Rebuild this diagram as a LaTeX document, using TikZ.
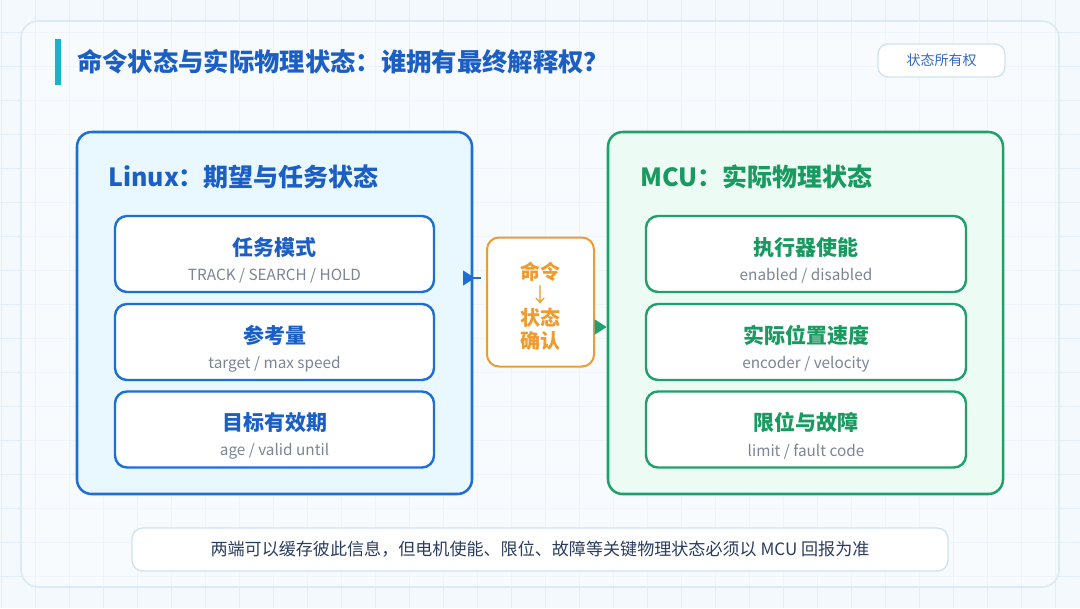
\documentclass[tikz,border=0pt]{standalone}
\usepackage{fontspec}
\setmainfont{Noto Sans CJK SC}
\usetikzlibrary{arrows.meta}
\definecolor{bgc}{HTML}{F4F9FD}
\definecolor{gridc}{HTML}{E3EEF6}
\definecolor{framec}{HTML}{DCEAF4}
\definecolor{titleblue}{HTML}{1C5FC4}
\definecolor{barc}{HTML}{19B3C9}
\definecolor{lblue}{HTML}{1E6FD1}
\definecolor{lfill}{HTML}{E9F8FF}
\definecolor{lgreen}{HTML}{1FA06C}
\definecolor{gtext}{HTML}{189A60}
\definecolor{gfill}{HTML}{ECFBF4}
\definecolor{subgray}{HTML}{7C8595}
\definecolor{orangec}{HTML}{EE9B30}
\definecolor{tagborder}{HTML}{CFE2F1}
\definecolor{tagtext}{HTML}{3568C0}
\definecolor{notetext}{HTML}{2B3D5E}
\begin{document}
\begin{tikzpicture}[x=0.75pt,y=-0.75pt,
  outerframe/.style={draw=framec,line width=1.2pt,fill=white,fill opacity=0.4,rounded corners=13pt,minimum width=778.5pt,minimum height=424.5pt,inner sep=0pt},
  panelL/.style={draw=lblue,line width=1.9pt,fill=lfill,rounded corners=11pt,minimum width=296.25pt,minimum height=271.5pt,inner sep=0pt},
  panelR/.style={panelL,draw=lgreen,fill=gfill},
  subL/.style={draw=lblue,line width=1.8pt,fill=white,rounded corners=9pt,minimum width=239.25pt,minimum height=57pt,inner sep=0pt},
  subR/.style={subL,draw=lgreen,minimum width=240pt},
  subtitleL/.style={font=\bfseries\fontsize{15.75}{18}\selectfont,text=titleblue,inner sep=0pt},
  subtitleR/.style={subtitleL,text=gtext},
  subnote/.style={font=\fontsize{11.5}{13}\selectfont,text=subgray,inner sep=0pt},
  paneltitle/.style={anchor=west,font=\bfseries\fontsize{18.75}{22}\selectfont,inner sep=0pt},
  midbox/.style={draw=orangec,line width=1.5pt,fill=white,rounded corners=9pt,minimum width=80.25pt,minimum height=96.75pt,inner sep=0pt},
  tagbox/.style={draw=tagborder,line width=1pt,fill=white,rounded corners=7.5pt,minimum width=95.25pt,minimum height=24.75pt,inner sep=0pt,font=\fontsize{10.5}{12}\selectfont,text=tagtext},
  notebox/.style={draw=tagborder,line width=1pt,fill=white,rounded corners=8pt,minimum width=612pt,minimum height=32.25pt,inner sep=0pt,font=\fontsize{12.8}{14}\selectfont,text=notetext},
  bluearrow/.style={draw=lblue,line width=1.5pt,-{Triangle[length=9pt,width=11pt]}},
  greenarrow/.style={draw=lgreen,line width=1.5pt,-{Triangle[length=9pt,width=11pt]}},
]
\useasboundingbox (0,0) rectangle (1080,608);
\fill[bgc] (0,0) rectangle (1080,608);
\foreach \x in {1,35,...,1080} \draw[gridc,line width=0.6pt] (\x,0) -- (\x,608);
\foreach \y in {32,66,...,608} \draw[gridc,line width=0.6pt] (0,\y) -- (1080,\y);

\node[outerframe] (frame) at (540,304) {};
\node[fill=barc,minimum width=4.5pt,minimum height=34.5pt,inner sep=0pt] (bar) at (58,62) {};
\node[anchor=west,inner sep=0pt,font=\bfseries\fontsize{19}{22}\selectfont,text=titleblue] (title) at (77,62) {命令状态与实际物理状态：谁拥有最终解释权？};
\node[tagbox] (tag) at (941.5,60.5) {状态所有权};

% left panel
\node[panelL] (Lp) at (274.5,313) {};
\node[paneltitle,text=titleblue] (Lt) at (108,177) {Linux：期望与任务状态};
\node[subL] (L1) at (274.5,254) {};
\node[subL] (L2) at (274.5,342) {};
\node[subL] (L3) at (274.5,429.5) {};
\node[subtitleL] (L1a) at ([yshift=5pt]L1.center) {任务模式};
\node[subnote] (L1b) at ([yshift=-16.5pt]L1.center) {TRACK / SEARCH / HOLD};
\node[subtitleL] (L2a) at ([yshift=5pt]L2.center) {参考量};
\node[subnote] (L2b) at ([yshift=-16.5pt]L2.center) {target / max speed};
\node[subtitleL] (L3a) at ([yshift=5pt]L3.center) {目标有效期};
\node[subnote] (L3b) at ([yshift=-16.5pt]L3.center) {age / valid until};

% right panel
\node[panelR] (Rp) at (805.5,313) {};
\node[paneltitle,text=gtext] (Rt) at (640,177) {MCU：实际物理状态};
\node[subR] (R1) at (806,254) {};
\node[subR] (R2) at (806,342) {};
\node[subR] (R3) at (806,429.5) {};
\node[subtitleR] (R1a) at ([yshift=5pt]R1.center) {执行器使能};
\node[subnote] (R1b) at ([yshift=-16.5pt]R1.center) {enabled / disabled};
\node[subtitleR] (R2a) at ([yshift=5pt]R2.center) {实际位置速度};
\node[subnote] (R2b) at ([yshift=-16.5pt]R2.center) {encoder / velocity};
\node[subtitleR] (R3a) at ([yshift=5pt]R3.center) {限位与故障};
\node[subnote] (R3b) at ([yshift=-16.5pt]R3.center) {limit / fault code};

% middle
\node[midbox] (M) at (540.5,302) {};
\node[align=center,text=orangec,font=\bfseries\fontsize{15}{17.25}\selectfont,inner sep=0pt] (Mt) at ([yshift=-3pt]M.center) {命令\\{\mdseries ↓}\\状态\\确认};

% connectors
\coordinate (ba) at ([yshift=26.25pt]Lp.east);
\draw[bluearrow,shorten >=8.25pt,shorten <=-6pt] (ba) -- (ba -| M.west);
\coordinate (ga) at ([yshift=-18.75pt]M.east);
\draw[greenarrow] (ga) -- (ga -| Rp.west);

% note
\node[notebox] (note) at (540,549.5) {两端可以缓存彼此信息，但电机使能、限位、故障等关键物理状态必须以 MCU 回报为准};
\end{tikzpicture}
\end{document}
